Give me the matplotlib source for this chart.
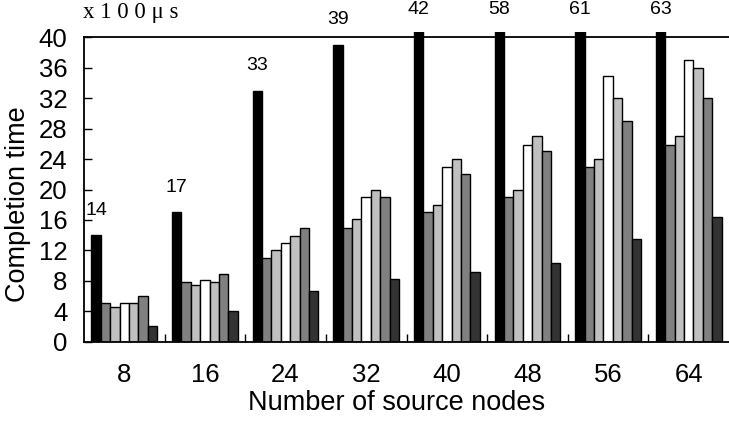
import matplotlib
matplotlib.use("Agg")
import matplotlib.pyplot as plt
import numpy as np

categories = ["8", "16", "24", "32", "40", "48", "56", "64"]
s1 = [14, 17, 33, 39, 42, 58, 61, 63]
s2 = [5.1, 7.8, 11.0, 15.0, 17.1, 19.0, 23.0, 25.9]
s3 = [4.5, 7.4, 12.0, 16.1, 17.9, 20.0, 24.0, 27.0]
s4 = [5.1, 8.1, 13.0, 19.0, 23.0, 25.9, 34.9, 37.0]
s5 = [5.1, 7.8, 13.9, 20.0, 24.0, 27.0, 32.0, 36.0]
s6 = [6.0, 8.9, 15.0, 19.0, 22.0, 25.0, 29.0, 32.0]
s7 = [2.0, 4.0, 6.6, 8.2, 9.1, 10.4, 13.5, 16.4]

series = [s1, s2, s3, s4, s5, s6, s7]
colors = ["black", "#808080", "#c0c0c0", "white", "#c0c0c0", "#808080", "#333333"]

plt.rcParams['font.family'] = ['Liberation Sans', 'DejaVu Sans']

fig = plt.figure(figsize=(7.29, 4.23), dpi=100)
ax = fig.add_axes([84/729, 81.3/423, 645/729, 309.7/423])

x = np.arange(len(categories))
w = 0.1165
ymax_axis = 40
ylim_top = 40.7
for j, (vals, c) in enumerate(zip(series, colors)):
    ax.bar(x + (j - 3) * w, vals, width=w, color=c,
           edgecolor="black", linewidth=1.0, zorder=2)

for xi, v in zip(x, s1):
    ax.text(xi - 3 * w, min(v, 40.4) + 3.3, str(v), ha="center", va="center",
            fontsize=14, clip_on=False)

ax.set_xlim(-0.5, 7.5)
ax.set_ylim(0, ylim_top)
ax.axhline(ymax_axis, color="black", lw=1.3, zorder=3, clip_on=False)

for s in ["top", "right"]:
    ax.spines[s].set_visible(False)
ax.spines["left"].set_bounds(0, ymax_axis)
ax.spines["left"].set_linewidth(1.3)
ax.spines["bottom"].set_linewidth(1.3)

ax.set_yticks(np.arange(0, 41, 4))
ax.tick_params(axis="y", direction="in", length=6, width=1, labelsize=18.5, pad=12)
ax.set_xticks(x)
ax.set_xticklabels(categories)
ax.tick_params(axis="x", which="major", length=0, labelsize=18.5, pad=15)
ax.set_xticks(x[:-1] + 0.5, minor=True)
ax.tick_params(axis="x", which="minor", direction="in", length=6, width=1)

ax.set_ylabel("Completion time", fontsize=19.5)
ax.yaxis.set_label_coords(-0.082, 0.445)
ax.set_xlabel("Number of source nodes", fontsize=19.5)
ax.xaxis.set_label_coords(0.484, -0.155)

fig.text(83/729, 1 - 18/423, "x 1 0 0 μ s", family=["Liberation Serif", "DejaVu Serif"],
         fontsize=16.5, ha="left", va="baseline")

fig.savefig("out.png", dpi=100)
